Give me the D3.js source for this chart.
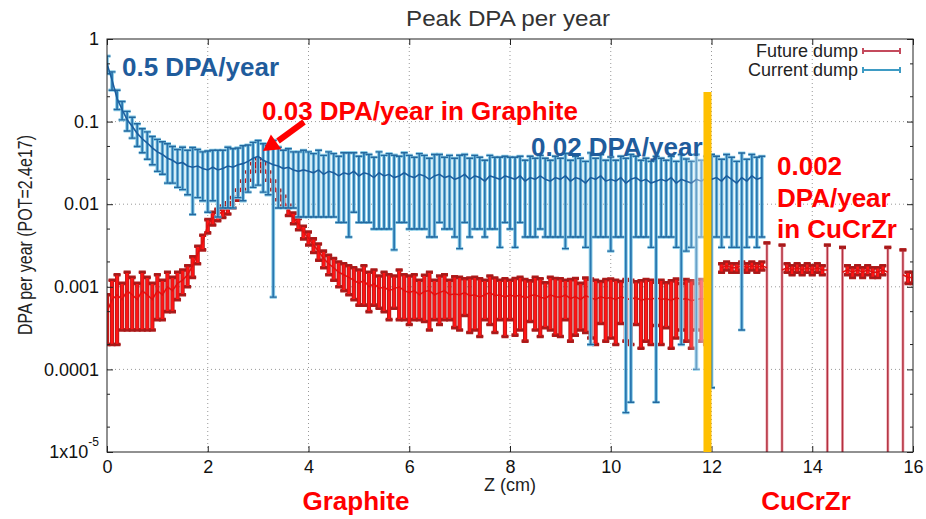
<!DOCTYPE html>
<html>
<head>
<meta charset="utf-8">
<script src="https://cdn.jsdelivr.net/npm/d3@7"></script>
<style>
  body { margin: 0; background: #fff; }
  svg { display: block; font-family: "Liberation Sans", Arial, sans-serif; }
</style>
</head>
<body>
<svg id="chart" width="926" height="519"></svg>
<script>
const xTicks = [0, 2, 4, 6, 8, 10, 12, 14, 16];
const yTicks = [1, 0.1, 0.01, 0.001, 0.0001, 0.00001];
const yTickLabels = ['1', '0.1', '0.01', '0.001', '0.0001', '1x10'];
const seriesNames = ['Future dump', 'Current dump'];

// current dump, one value per 1 mm bin, z = 0 .. 13 cm
const currentDPA = [
  0.50, 0.32, 0.19, 0.14, 0.105, 0.088, 0.072, 0.062, 0.055, 0.048,
  0.043, 0.040, 0.036, 0.034, 0.031, 0.032, 0.029, 0.028, 0.029, 0.027,
  0.026, 0.028, 0.026, 0.027, 0.029, 0.028, 0.030, 0.031, 0.033, 0.036,
  0.038, 0.034, 0.032, 0.030, 0.029, 0.027, 0.028, 0.026, 0.025, 0.026,
  0.025, 0.024, 0.026, 0.023, 0.025, 0.024, 0.022, 0.024, 0.023, 0.025,
  0.022, 0.024, 0.023, 0.021, 0.024, 0.022, 0.023, 0.021, 0.022, 0.024,
  0.022, 0.021, 0.023, 0.022, 0.020, 0.022, 0.023, 0.021, 0.022, 0.020,
  0.021, 0.023, 0.020, 0.022, 0.021, 0.019, 0.022, 0.021, 0.020, 0.022,
  0.021, 0.020, 0.022, 0.019, 0.021, 0.020, 0.022, 0.020, 0.019, 0.021,
  0.020, 0.022, 0.019, 0.021, 0.020, 0.018, 0.021, 0.020, 0.022, 0.019,
  0.020, 0.019, 0.021, 0.018, 0.020, 0.021, 0.019, 0.020, 0.018, 0.019,
  0.020, 0.019, 0.021, 0.018, 0.020, 0.019, 0.018, 0.020, 0.019, 0.021,
  0.020, 0.021, 0.019, 0.022, 0.020, 0.018, 0.021, 0.019, 0.022, 0.020,
  0.021
];
const currentErr = [
  0.12, 0.08, 0.05, 0.035, 0.028, 0.025, 0.022, 0.02, 0.02, 0.018,
  0.018, 0.017, 0.018, 0.016, 0.015, 0.017, 0.016, 0.0205, 0.017, 0.016,
  0.018, 0.017, 0.019, 0.018, 0.02, 0.019, 0.018, 0.02, 0.019, 0.02,
  0.021, 0.02, 0.019, 0.02925, 0.02, 0.018, 0.019, 0.017, 0.018, 0.019,
  0.018, 0.017, 0.019, 0.016, 0.018, 0.017, 0.016, 0.018, 0.019, 0.017,
  0.016, 0.018, 0.017, 0.016, 0.019, 0.017, 0.018, 0.0182, 0.016, 0.018,
  0.017, 0.016, 0.018, 0.017, 0.016, 0.018, 0.017, 0.016, 0.017, 0.016,
  0.0181, 0.017, 0.016, 0.017, 0.016, 0.015, 0.017, 0.016, 0.017, 0.016,
  0.016, 0.017, 0.016, 0.015, 0.017, 0.016, 0.017, 0.016, 0.015, 0.017,
  0.016, 0.0191, 0.015, 0.017, 0.016, 0.015, 0.0208, 0.016, 0.018, 0.015,
  0.0173, 0.015, 0.017, 0.01797, 0.01996, 0.017, 0.015, 0.016, 0.015, 0.01896,
  0.016, 0.015, 0.017, 0.015, 0.0198, 0.0163, 0.015, 0.0199, 0.015, 0.017,
  0.01994, 0.017, 0.016, 0.018, 0.017, 0.015, 0.0207, 0.016, 0.018, 0.017,
  0.017
];

// future dump, one value per 1 mm bin, z = 0 .. 16 cm (null = nothing drawn)
const futureDPA = [
  0.0005, 0.0007, 0.0008, 0.0007, 0.0009, 0.0008, 0.0007, 0.0009, 0.0008, 0.0007,
  0.0009, 0.0008, 0.001, 0.0009, 0.0011, 0.0012, 0.0014, 0.0018, 0.0025, 0.0035,
  0.0055, 0.0068, 0.0075, 0.0082, 0.009, 0.0105, 0.013, 0.017, 0.022, 0.028,
  0.032, 0.028, 0.022, 0.017, 0.013, 0.011, 0.0085, 0.0068, 0.0058, 0.0046,
  0.0039, 0.0032, 0.0027, 0.0022, 0.0019, 0.0017, 0.0015, 0.0014, 0.0013, 0.0012,
  0.0011, 0.0012, 0.0010, 0.0011, 0.00095, 0.001, 0.0009, 0.00095, 0.001, 0.0009,
  0.00085, 0.0009, 0.0008, 0.00088, 0.0009, 0.0008, 0.00085, 0.0009, 0.0008, 0.00082,
  0.0008, 0.00085, 0.00078, 0.0008, 0.00075, 0.0008, 0.00085, 0.00078, 0.0008, 0.00075,
  0.0008, 0.00076, 0.0008, 0.00072, 0.00078, 0.0008, 0.00075, 0.00072, 0.0008, 0.00076,
  0.00075, 0.0008, 0.00072, 0.00076, 0.0007, 0.00078, 0.00074, 0.0007, 0.00076, 0.00072,
  0.00074, 0.0007, 0.00076, 0.00072, 0.0007, 0.00075, 0.00068, 0.00072, 0.0007, 0.00074,
  0.0007, 0.00072, 0.00068, 0.00074, 0.0007, 0.00072, 0.00068, 0.0007, 0.00072, 0.0007,
  null, null, 0.0017, 0.0018, 0.0017, 0.0017, 0.0018, 0.0017, 0.0018, 0.0017,
  0.0018, 0.0017, null, null, 0.0016, 0.0017, 0.0016, 0.0017, 0.0016, 0.0017,
  0.0016, 0.0017, 0.0016, 0.0016, null, null, 0.0015, 0.0016, 0.0015, 0.0016,
  0.0015, 0.0016, 0.0015, 0.0015, 0.0016, 0.0015, null, null, 0.0014, 0.0013,
  0.0013
];
const futureErr = [
  0.0003, 0.0005, 0.0006, 0.0004, 0.0006, 0.0005, 0.0004, 0.0006, 0.0005, 0.0004,
  0.0005, 0.0004, 0.0005, 0.0004, 0.0004, 0.0004, 0.0004, 0.0005, 0.0006, 0.0007,
  0.001, 0.0012, 0.0012, 0.0013, 0.0014, 0.0015, 0.0018, 0.002, 0.0025, 0.003,
  0.0035, 0.003, 0.0025, 0.002, 0.0017, 0.0015, 0.0012, 0.001, 0.0009, 0.0008,
  0.0007, 0.0006, 0.0006, 0.0005, 0.0005, 0.0005, 0.0005, 0.0005, 0.0005, 0.0005,
  0.0005, 0.0006, 0.0005, 0.0005, 0.0004, 0.0005, 0.0005, 0.0004, 0.0006, 0.0005,
  0.0005, 0.0005, 0.0004, 0.0005, 0.0006, 0.0004, 0.0005, 0.0005, 0.0004, 0.0005,
  0.0005, 0.0004, 0.0005, 0.0005, 0.0005, 0.0004, 0.0005, 0.0005, 0.0004, 0.0005,
  0.0004, 0.0005, 0.0005, 0.0005, 0.0004, 0.0005, 0.0005, 0.0004, 0.0005, 0.0005,
  0.0005, 0.0004, 0.0005, 0.0005, 0.0004, 0.0005, 0.0005, 0.0005, 0.0004, 0.0005,
  0.0005, 0.0005, 0.0004, 0.0005, 0.0005, 0.0004, 0.0005, 0.0005, 0.0005, 0.0004,
  0.0005, 0.0004, 0.0005, 0.0005, 0.0004, 0.0005, 0.0005, 0.0004, 0.0005, 0.0005,
  null, null, 0.0002, 0.0002, 0.0002, 0.0002, 0.0002, 0.0002, 0.0002, 0.0002,
  0.0002, 0.0017, null, null, 0.0016, 0.0002, 0.0002, 0.0002, 0.0002, 0.0002,
  0.0002, 0.0002, 0.0002, 0.0016, null, null, 0.0015, 0.0002, 0.0002, 0.0002,
  0.0002, 0.0002, 0.0002, 0.0002, 0.0002, 0.0015, null, null, 0.0014, 0.0002,
  0.0002
];

const boundaryZ = 11.92; // graphite / CuCrZr interface

const svg = d3.select('#chart');
const x = d3.scaleLinear().domain([0, 16]).range([107, 913]);
const y = d3.scaleLog().domain([1e-5, 1]).range([452, 39]).clamp(true);
const [x0, x1] = x.range();
const [yb, yt] = y.range();

const toPoints = (vals, errs) => vals.map((v, i) => ({ z: i / 10, v: v, e: errs[i] }));
const futureAll = toPoints(futureDPA, futureErr);
const future = futureAll.filter(d => d.v != null);
const current = toPoints(currentDPA, currentErr);

// title
svg.append('text')
  .attr('x', 508).attr('y', 26)
  .attr('text-anchor', 'middle')
  .attr('font-size', 22).attr('fill', '#333')
  .attr('textLength', 204).attr('lengthAdjust', 'spacingAndGlyphs')
  .text('Peak DPA per year');

// dotted grid
const grid = svg.append('g').attr('stroke', '#999').attr('stroke-dasharray', '1,3');
grid.selectAll('line.gx').data(xTicks.slice(1, -1)).join('line').attr('class', 'gx')
  .attr('x1', d => x(d)).attr('x2', d => x(d)).attr('y1', yt).attr('y2', yb);
grid.selectAll('line.gy').data(yTicks.slice(1, -1)).join('line').attr('class', 'gy')
  .attr('x1', x0).attr('x2', x1).attr('y1', d => y(d)).attr('y2', d => y(d));

svg.append('clipPath').attr('id', 'plot')
  .append('rect').attr('x', x0).attr('y', yt).attr('width', x1 - x0).attr('height', yb - yt);
const plot = svg.append('g').attr('clip-path', 'url(#plot)');

const lo = d => Math.max(d.v - d.e, 1e-9);
const hi = d => d.v + d.e;
const drops = d => lo(d) < 1e-5;
const capPath = d => {
  const cx = x(d.z);
  let p = `M${cx - 3.5},${y(hi(d))}H${cx + 3.5}`;
  if (!drops(d)) p += `M${cx - 3.5},${y(lo(d))}H${cx + 3.5}`;
  return p;
};

function errorBars(g, pts, s) {
  g.append('g').selectAll('line').data(pts).join('line')
    .attr('x1', d => x(d.z)).attr('x2', d => x(d.z))
    .attr('y1', d => y(hi(d))).attr('y2', d => y(lo(d)))
    .attr('stroke', d => drops(d) ? s.dropHalo : s.under)
    .attr('stroke-width', d => drops(d) ? 3 : s.wUnder);
  g.append('g').selectAll('path').data(pts).join('path')
    .attr('d', capPath).attr('fill', 'none')
    .attr('stroke', s.under).attr('stroke-width', s.wUnder - 0.6);
  g.append('g').selectAll('line').data(pts).join('line')
    .attr('x1', d => x(d.z)).attr('x2', d => x(d.z))
    .attr('y1', d => y(hi(d))).attr('y2', d => y(lo(d)))
    .attr('stroke', d => drops(d) ? s.drop : s.over)
    .attr('stroke-width', d => drops(d) ? 1.5 : s.wOver);
  g.append('g').selectAll('path').data(pts).join('path')
    .attr('d', capPath).attr('fill', 'none')
    .attr('stroke', s.cap).attr('stroke-width', 1.4);
}

const line = d3.line().x(d => x(d.z)).y(d => y(d.v));

// future dump (red)
const gf = plot.append('g');
errorBars(gf, future, {
  under: '#b01c1c', over: '#ff1414', wUnder: 4.2, wOver: 2.6, cap: '#a51a1a',
  drop: '#b3303f', dropHalo: '#f2b3bb'
});
// connect only contiguous bins
const futureRuns = [];
futureAll.forEach((d, i) => {
  if (d.v == null) return;
  if (i === 0 || futureAll[i - 1].v == null) futureRuns.push([]);
  futureRuns[futureRuns.length - 1].push(d);
});
gf.selectAll('path.run').data(futureRuns).join('path').attr('class', 'run')
  .attr('d', line).attr('fill', 'none').attr('stroke', '#e01010').attr('stroke-width', 1.5);

// current dump (blue)
const gc = plot.append('g');
errorBars(gc, current, {
  under: '#8ccde8', over: '#2a77b0', wUnder: 3.8, wOver: 1.8, cap: '#24689e',
  drop: '#2a77b0', dropHalo: '#a8dcef'
});
gc.append('path').datum(current)
  .attr('d', line).attr('fill', 'none').attr('stroke', '#1b5e9e').attr('stroke-width', 1.6);

// soft fade just before the interface
const grad = svg.append('defs').append('linearGradient').attr('id', 'fade');
grad.append('stop').attr('offset', 0).attr('stop-color', '#fff').attr('stop-opacity', 0);
grad.append('stop').attr('offset', 1).attr('stop-color', '#fff').attr('stop-opacity', 0.55);
plot.append('rect')
  .attr('x', x(boundaryZ) - 22).attr('y', yt).attr('width', 20).attr('height', yb - yt)
  .attr('fill', 'url(#fade)');

// axes, gnuplot style (ticks inside, mirrored)
const styleAxis = g => {
  g.select('.domain').remove();
  g.selectAll('line').attr('stroke', '#222');
  g.selectAll('text').attr('fill', '#111').attr('font-size', 18)
    .attr('font-family', '"Liberation Sans", Arial, sans-serif');
};
svg.append('g').attr('transform', `translate(0,${yb})`)
  .call(d3.axisBottom(x).tickValues(xTicks).tickSize(-6).tickPadding(8).tickFormat(d3.format('d')))
  .call(styleAxis);
svg.append('g').attr('transform', `translate(0,${yt})`)
  .call(d3.axisTop(x).tickValues(xTicks).tickSize(-6).tickFormat(''))
  .call(styleAxis);
const yAxis = svg.append('g').attr('transform', `translate(${x0},0)`)
  .call(d3.axisLeft(y).tickValues(yTicks).tickSize(-6).tickPadding(8).tickFormat((d, i) => yTickLabels[i]))
  .call(styleAxis);
yAxis.selectAll('.tick text').filter(d => d === 1e-5)
  .append('tspan').attr('dy', '-1.05em').attr('font-size', 12).text('-5');
svg.append('g').attr('transform', `translate(${x1},0)`)
  .call(d3.axisRight(y).tickValues(yTicks).tickSize(-6).tickFormat(''))
  .call(styleAxis);

const minor = yTicks.slice(1).flatMap(d => [2 * d, 5 * d]);
svg.append('g').attr('stroke', '#222').selectAll('path').data(minor).join('path')
  .attr('d', d => `M${x0},${y(d)}h3M${x1},${y(d)}h-3`);

svg.append('rect')
  .attr('x', x0).attr('y', yt).attr('width', x1 - x0).attr('height', yb - yt)
  .attr('fill', 'none').attr('stroke', '#222').attr('stroke-width', 1);

// axis titles
svg.append('text')
  .attr('x', 510).attr('y', 491).attr('text-anchor', 'middle')
  .attr('font-size', 18).attr('fill', '#222')
  .text('Z (cm)');
svg.append('text')
  .attr('transform', 'translate(32,235) rotate(-90)')
  .attr('text-anchor', 'middle')
  .attr('font-size', 21).attr('fill', '#222')
  .attr('textLength', 200).attr('lengthAdjust', 'spacingAndGlyphs')
  .text('DPA per year (POT=2.4e17)');

// legend
const legendColors = ['#c44a5c', '#3e9bc4'];
const legend = svg.append('g').selectAll('g').data(seriesNames).join('g')
  .attr('transform', (d, i) => `translate(0,${51 + i * 19})`);
legend.append('text')
  .attr('x', 858).attr('dy', '0.35em').attr('text-anchor', 'end')
  .attr('font-size', 18).attr('fill', '#222')
  .text(d => d);
legend.append('path')
  .attr('d', 'M863,0H900M863,-3V3M900,-3V3')
  .attr('fill', 'none').attr('stroke-width', 2)
  .attr('stroke', (d, i) => legendColors[i]);

// interface marker
svg.append('line')
  .attr('x1', x(boundaryZ)).attr('x2', x(boundaryZ))
  .attr('y1', 92).attr('y2', yb)
  .attr('stroke', '#ffc000').attr('stroke-width', 8);

// annotations
const note = (txt, px, py, color, anchor) => svg.append('text')
  .attr('x', px).attr('y', py)
  .attr('text-anchor', anchor || 'start')
  .attr('font-size', 26).attr('font-weight', 'bold')
  .attr('fill', color).text(txt);
const blueNote = '#1f5c9c', redNote = '#ff0000';
note('0.5 DPA/year', 122, 76, blueNote);
note('0.03 DPA/year in Graphite', 262, 120, redNote);
note('0.02 DPA/year', 531, 156, blueNote);
note('0.002', 777, 175, redNote);
note('DPA/year', 777, 207, redNote);
note('in CuCrZr', 777, 238, redNote);
note('Graphite', 356, 510, redNote, 'middle');
note('CuCrZr', 806, 510, redNote, 'middle');

// arrow to the graphite peak
svg.append('line')
  .attr('x1', 304).attr('y1', 122).attr('x2', 278).attr('y2', 141)
  .attr('stroke', redNote).attr('stroke-width', 6);
svg.append('path')
  .attr('d', 'M263,151L270.9,134.4L281.3,149.2Z')
  .attr('fill', redNote);
</script>
</body>
</html>
